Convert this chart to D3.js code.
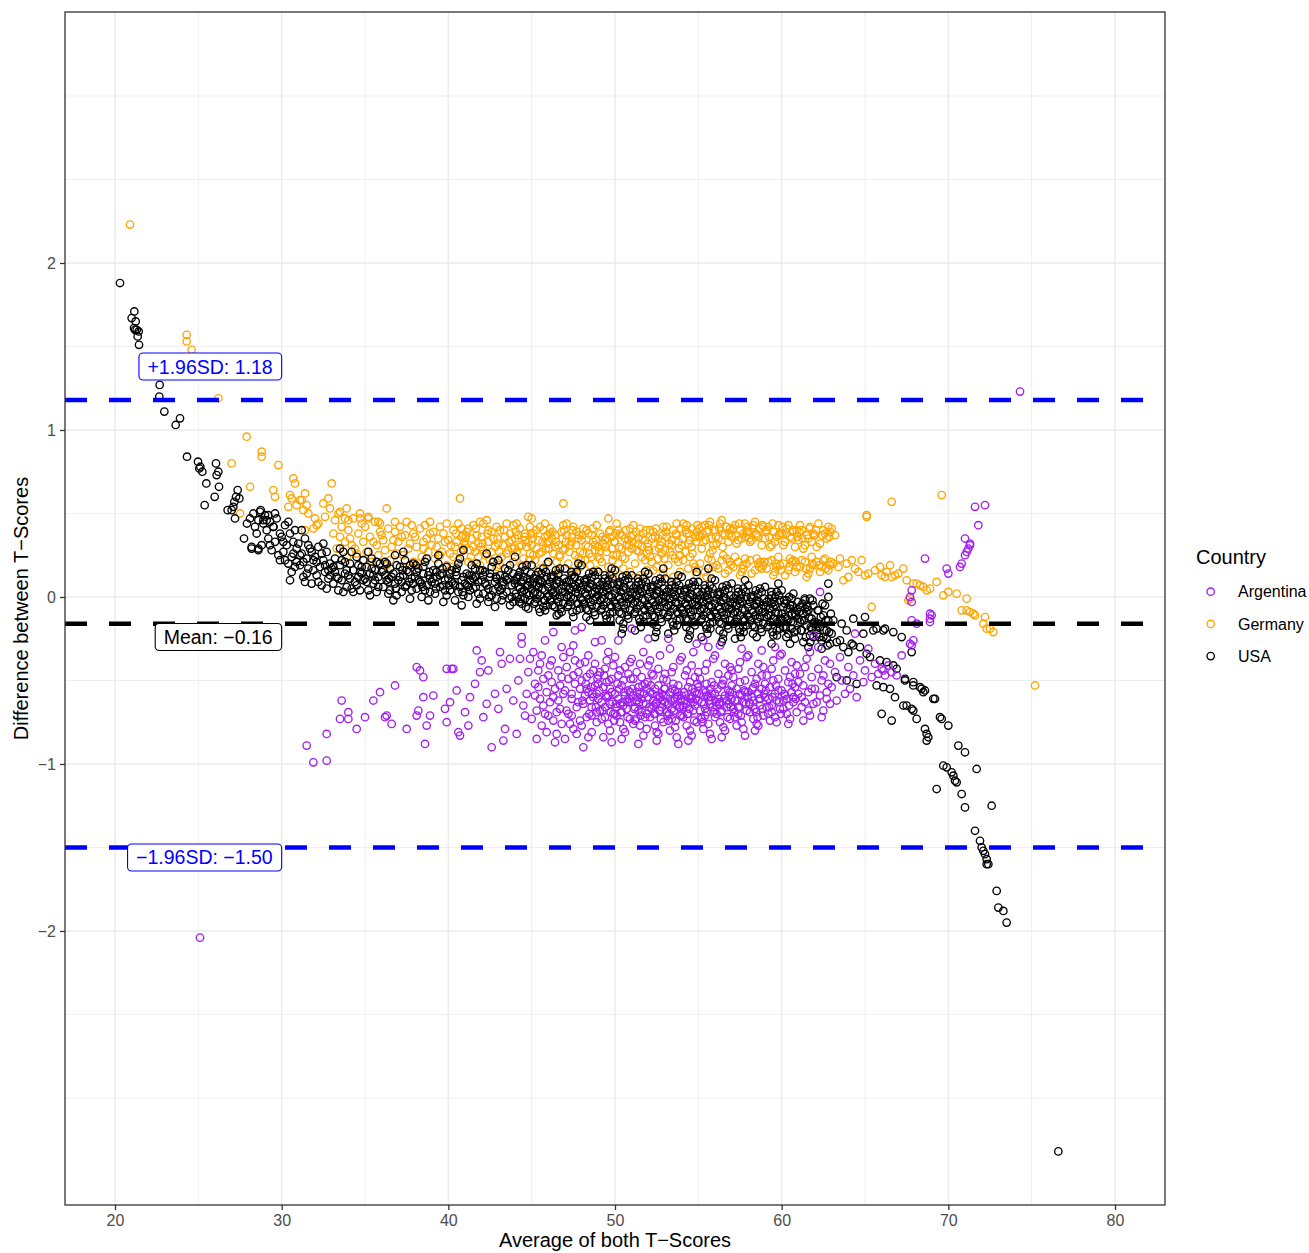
<!DOCTYPE html>
<html><head><meta charset="utf-8">
<script src="https://cdn.jsdelivr.net/npm/d3@7"></script>
<style>body{margin:0;background:#fff}svg{display:block}text{font-family:"Liberation Sans",Arial,Helvetica,sans-serif}</style>
</head><body><svg id="c" width="1309" height="1253"></svg>
<script>
const countries = ["Argentina","Germany","USA"];
const countryColors = ["#A020F0","#FFA500","#000000"];
const xTicks = [20,30,40,50,60,70,80];
const yTicks = [-2,-1,0,1,2];
const limitValues = [1.18,-0.16,-1.50];
const limitLabels = ["+1.96SD: 1.18","Mean: \u22120.16","\u22121.96SD: \u22121.50"];
const limitColors = ["#0000FF","#000000","#0000FF"];
const labelYValues = [1.38,-0.24,-1.56];
const labelRightX = 30;

const usa = [[20.3,1.88],[21.16,1.71],[21.0,1.67],[21.24,1.65],[21.14,1.61],[21.3,1.60],[21.42,1.59],[21.36,1.56],[21.44,1.51],[21.2,1.60],
[22.68,1.27],[22.66,1.2],[22.96,1.11],[23.64,1.03],[23.9,1.07],[24.32,.84],[24.98,.81],[25.12,.78],[25.24,.75],[25.06,.77],[25.48,.68],[25.38,.55],[25.98,.6],[26.06,.80],[26.2,.75],[26.24,.66],[26.1,.73],
[26.76,.52],[27.0,.52],[27.1,.54],[27.16,.57],[27.26,.60],[27.36,.64],[27.46,.59],[27.2,.47],[27.74,.35],[27.92,.44],[28.2,.29],[28.6,.28],[28.74,.52],[28.9,.46],[29.2,.49],[29.5,.42],
[28.1,.47],[28.3,.50],[28.4,.42],[28.5,.38],[28.6,.46],[28.7,.51],[28.8,.31],[28.9,.44],[28.2,.30],[28.6,.29],
[29.0,.49],[29.1,.40],[29.2,.35],[29.3,.45],[29.4,.28],[29.5,.42],[29.6,.33],[29.7,.47],[29.8,.25],[29.9,.38],[29.3,.31],[29.6,.50],[29.9,.22],[29.1,.46],
[30.0,.36],[30.1,.27],[30.2,.43],[30.3,.31],[30.4,.20],[30.5,.10],[30.5,.38],[30.6,.24],[30.7,.33],[30.8,.18],[30.9,.29],[30.2,.22],[30.4,.45],[30.6,.15],[30.8,.40],[30.9,.21],[30.1,.33],[30.7,.26],
[31.0,.32],[31.1,.19],[31.2,.26],[31.3,.12],[31.4,.35],[31.5,.23],[31.6,.17],[31.7,.29],[31.8,.08],[31.9,.22],[31.2,.40],[31.5,.14],[31.8,.27],[31.3,.21],[31.6,.31],[31.9,.16],[31.1,.25],[31.4,.09],
[32.0,.24],[32.1,.13],[32.2,.30],[32.3,.18],[32.4,.07],[32.5,.22],[32.6,.15],[32.7,.27],[32.8,.11],[32.9,.20],[32.2,.09],[32.5,.32],[32.8,.16],[32.1,.21],[32.4,.26],[32.7,.05],[32.9,.13],[32.6,.19],
[33.0,.17],[33.1,.08],[33.2,.23],[33.3,.12],[33.4,.04],[33.5,.19],[33.6,.10],[33.7,.27],[33.8,.14],[33.9,.06],[33.2,.15],[33.5,.29],[33.8,.21],[33.1,.18],[33.4,.11],[33.7,.03],[33.9,.16],[33.6,.22],
[34.0,.13],[34.1,.20],[34.2,.05],[34.3,.16],[34.4,.09],[34.5,.24],[34.6,.12],[34.7,.04],[34.8,.18],[34.9,.10],[34.2,.27],[34.5,.07],[34.8,.14],[34.3,.03],[34.6,.19],[34.9,.22],[34.1,.11],[34.7,.15],
[35.0,.11],[35.1,.18],[35.2,.04],[35.3,.14],[35.4,.23],[35.5,.08],[35.6,.16],[35.7,.03],[35.8,.12],[35.9,.20],[35.2,.27],[35.5,.13],[35.8,.06],[35.1,.09],[35.4,.17],[35.7,.21],[35.3,.01],[35.6,.10],
[36.0,.15],[36.1,.06],[36.2,.21],[36.3,.10],[36.4,.02],[36.5,.17],[36.6,.12],[36.7,-.02],[36.8,.08],[36.9,.19],[36.2,.13],[36.5,.04],[36.8,.25],[36.1,.16],[36.4,.09],[36.7,.14],[36.9,.01],[36.3,.20],
[37.0,.10],[37.1,.18],[37.2,.03],[37.3,.13],[37.4,.22],[37.5,.07],[37.6,.15],[37.7,-.01],[37.8,.11],[37.9,.20],[37.2,.09],[37.5,.16],[37.8,.04],[37.1,.12],[37.4,.06],[37.7,.19],[37.9,.08],[37.3,.27],
[38.0,.12],[38.1,.05],[38.2,.17],[38.3,.09],[38.4,.00],[38.5,.14],[38.6,.21],[38.7,.07],[38.8,.13],[38.9,.03],[38.2,.10],[38.5,.18],[38.8,-.02],[38.1,.15],[38.4,.08],[38.7,.23],[38.9,.11],[38.6,.04],
[39.0,.09],[39.1,.16],[39.2,.02],[39.3,.12],[39.4,.20],[39.5,.06],[39.6,.14],[39.7,-.03],[39.8,.10],[39.9,.18],[39.2,.08],[39.5,.13],[39.8,.04],[39.1,.11],[39.4,.25],[39.7,.07],[39.9,.01],[39.3,.15],
[40.0,.11],[40.1,.04],[40.2,.16],[40.3,.08],[40.4,-.02],[40.5,.13],[40.6,.20],[40.7,.06],[40.8,.10],[40.9,.01],[40.2,.09],[40.5,.17],[40.8,-.05],[40.1,.14],[40.4,.07],[40.7,.23],[40.9,.12],[40.6,.03],[40.9,.28],
[41.0,.08],[41.1,.14],[41.2,.00],[41.3,.10],[41.4,.19],[41.5,.05],[41.6,.12],[41.7,-.04],[41.8,.09],[41.9,.16],[41.2,.06],[41.5,.11],[41.8,.02],[41.1,.07],[41.4,.13],[41.7,.20],[41.9,-.01],[41.3,.04],[41.6,.17],
[42.0,.10],[42.1,.02],[42.2,.15],[42.3,.07],[42.4,-.03],[42.5,.12],[42.6,.18],[42.7,.04],[42.8,.09],[42.9,-.01],[42.2,.08],[42.5,.14],[42.8,-.06],[42.1,.13],[42.4,.05],[42.7,.21],[42.9,.11],[42.6,.01],[42.3,.26],
[43.0,.06],[43.1,.13],[43.2,-.02],[43.3,.09],[43.4,.17],[43.5,.03],[43.6,.11],[43.7,-.05],[43.8,.07],[43.9,.14],[43.2,.05],[43.5,.10],[43.8,.00],[43.1,.04],[43.4,.12],[43.7,.19],[43.9,-.03],[43.3,.01],[43.6,.16],[43.0,.22],
[44.0,.08],[44.1,.00],[44.2,.13],[44.3,.05],[44.4,-.04],[44.5,.10],[44.6,.16],[44.7,.02],[44.8,.07],[44.9,-.02],[44.2,.06],[44.5,.12],[44.8,-.07],[44.1,.11],[44.4,.03],[44.7,.19],[44.9,.09],[44.6,-.01],[44.3,.15],[44.0,.24],
[45.0,.05],[45.1,.11],[45.2,-.03],[45.3,.07],[45.4,.15],[45.5,.01],[45.6,.09],[45.7,-.06],[45.8,.04],[45.9,.12],[45.2,.03],[45.5,.08],[45.8,-.02],[45.1,.02],[45.4,.10],[45.7,.17],[45.9,-.05],[45.3,-.01],[45.6,.14],[45.0,.19],[45.5,-.09],
[46.0,.06],[46.1,-.02],[46.2,.11],[46.3,.03],[46.4,-.06],[46.5,.08],[46.6,.14],[46.7,.00],[46.8,.05],[46.9,-.04],[46.2,.04],[46.5,.10],[46.8,-.09],[46.1,.09],[46.4,.01],[46.7,.17],[46.9,.07],[46.6,-.03],[46.3,.13],[46.0,.21],[46.5,-.11],
[47.0,.03],[47.1,.09],[47.2,-.05],[47.3,.05],[47.4,.13],[47.5,-.01],[47.6,.07],[47.7,-.08],[47.8,.02],[47.9,.10],[47.2,.01],[47.5,.06],[47.8,-.04],[47.1,.00],[47.4,.08],[47.7,.15],[47.9,-.07],[47.3,-.03],[47.6,.12],[47.0,.17],[47.5,-.12],[47.8,.20],
[48.0,.04],[48.1,-.04],[48.2,.09],[48.3,.01],[48.4,-.08],[48.5,.06],[48.6,.12],[48.7,-.02],[48.8,.03],[48.9,-.06],[48.2,.02],[48.5,.08],[48.8,-.11],[48.1,.07],[48.4,-.01],[48.7,.15],[48.9,.05],[48.6,-.05],[48.3,.11],[48.0,.19],[48.5,-.14],[48.8,.13],
[49.0,.01],[49.1,.07],[49.2,-.07],[49.3,.03],[49.4,.11],[49.5,-.03],[49.6,.05],[49.7,-.10],[49.8,.00],[49.9,.08],[49.2,-.01],[49.5,.04],[49.8,-.06],[49.1,-.02],[49.4,.06],[49.7,.13],[49.9,-.09],[49.3,-.05],[49.6,.10],[49.0,.15],[49.5,-.13],[49.8,.17],
[50.0,.02],[50.1,-.06],[50.2,.07],[50.3,-.01],[50.4,-.10],[50.5,.04],[50.6,.10],[50.7,-.04],[50.8,.01],[50.9,-.08],[50.2,.00],[50.5,.06],[50.8,-.13],[50.1,.05],[50.4,-.03],[50.7,.13],[50.9,.03],[50.6,-.07],[50.3,.09],[50.0,.16],[50.5,-.16],[50.8,.11],[50.4,-.22],
[51.0,-.01],[51.1,.05],[51.2,-.09],[51.3,.01],[51.4,.09],[51.5,-.05],[51.6,.03],[51.7,-.12],[51.8,-.02],[51.9,.06],[51.2,-.03],[51.5,.02],[51.8,-.08],[51.1,-.04],[51.4,.04],[51.7,.11],[51.9,-.11],[51.3,-.07],[51.6,.08],[51.0,.13],[51.5,-.15],[51.8,.15],[51.2,-.20],
[52.0,.00],[52.1,-.08],[52.2,.05],[52.3,-.03],[52.4,-.12],[52.5,.02],[52.6,.08],[52.7,-.06],[52.8,-.01],[52.9,-.10],[52.2,-.02],[52.5,.04],[52.8,-.15],[52.1,.03],[52.4,-.05],[52.7,.11],[52.9,.01],[52.6,-.09],[52.3,.07],[52.0,.14],[52.5,-.18],[52.8,.09],[52.4,-.24],[52.9,.17],
[53.0,-.03],[53.1,.03],[53.2,-.11],[53.3,-.01],[53.4,.07],[53.5,-.07],[53.6,.01],[53.7,-.14],[53.8,-.04],[53.9,.04],[53.2,-.05],[53.5,.00],[53.8,-.10],[53.1,-.06],[53.4,.02],[53.7,.09],[53.9,-.13],[53.3,-.09],[53.6,.06],[53.0,.11],[53.5,-.17],[53.8,.13],[53.2,-.22],
[54.0,-.02],[54.1,-.10],[54.2,.03],[54.3,-.05],[54.4,-.14],[54.5,.00],[54.6,.06],[54.7,-.08],[54.8,-.03],[54.9,-.12],[54.2,-.04],[54.5,.02],[54.8,-.17],[54.1,.01],[54.4,-.07],[54.7,.09],[54.9,-.01],[54.6,-.11],[54.3,.05],[54.0,.12],[54.5,-.20],[54.8,.07],[54.4,-.25],[54.9,.15],
[55.0,-.05],[55.1,.01],[55.2,-.13],[55.3,-.03],[55.4,.05],[55.5,-.09],[55.6,-.01],[55.7,-.16],[55.8,-.06],[55.9,.02],[55.2,-.07],[55.5,-.02],[55.8,-.12],[55.1,-.08],[55.4,.00],[55.7,.07],[55.9,-.15],[55.3,-.11],[55.6,.04],[55.0,.09],[55.5,-.19],[55.8,.11],[55.2,-.24],[55.6,.17],
[56.0,-.04],[56.1,-.12],[56.2,.01],[56.3,-.07],[56.4,-.16],[56.5,-.02],[56.6,.04],[56.7,-.10],[56.8,-.05],[56.9,-.14],[56.2,-.06],[56.5,.00],[56.8,-.19],[56.1,-.01],[56.4,-.09],[56.7,.07],[56.9,-.03],[56.6,-.13],[56.3,.03],[56.0,.10],[56.5,-.22],[56.8,.05],[56.4,-.27],
[57.0,-.07],[57.1,-.01],[57.2,-.15],[57.3,-.05],[57.4,.03],[57.5,-.11],[57.6,-.03],[57.7,-.18],[57.8,-.08],[57.9,.00],[57.2,-.09],[57.5,-.04],[57.8,-.14],[57.1,-.10],[57.4,-.02],[57.7,.05],[57.9,-.17],[57.3,-.13],[57.6,.02],[57.0,.08],[57.5,-.21],[57.8,.10],[57.2,-.25],
[58.0,-.06],[58.1,-.14],[58.2,-.01],[58.3,-.09],[58.4,-.18],[58.5,-.04],[58.6,.02],[58.7,-.12],[58.8,-.07],[58.9,-.16],[58.2,-.08],[58.5,-.02],[58.8,-.21],[58.1,-.03],[58.4,-.11],[58.7,.05],[58.9,-.05],[58.6,-.15],[58.3,.01],[58.0,.07],[58.5,-.24],[58.8,.03],
[59.0,-.09],[59.1,-.03],[59.2,-.17],[59.3,-.07],[59.4,.01],[59.5,-.13],[59.6,-.05],[59.7,-.20],[59.8,-.10],[59.9,-.02],[59.2,-.11],[59.5,-.06],[59.8,-.16],[59.1,-.12],[59.4,-.04],[59.7,.03],[59.9,-.19],[59.3,-.15],[59.6,.00],[59.0,.06],[59.5,-.23],[59.8,.08],[59.4,-.28],
[60.0,-.10],[60.1,-.18],[60.2,-.04],[60.3,-.13],[60.4,-.22],[60.5,-.07],[60.6,-.01],[60.7,-.15],[60.8,-.10],[60.9,-.20],[60.2,-.12],[60.5,-.05],[60.8,-.25],[60.1,-.06],[60.4,-.14],[60.7,.02],[60.9,-.08],[60.6,-.19],[60.3,-.02],[60.0,.04],[60.5,-.28],
[61.0,-.13],[61.1,-.06],[61.2,-.20],[61.3,-.10],[61.4,-.02],[61.5,-.17],[61.6,-.08],[61.7,-.23],[61.8,-.13],[61.9,-.05],[61.2,-.14],[61.5,-.09],[61.8,-.19],[61.1,-.15],[61.4,-.07],[61.7,-.01],[61.9,-.24],[61.3,-.27],[61.6,-.30],
[62.0,-.15],[62.1,-.22],[62.2,-.08],[62.3,-.18],[62.4,-.26],[62.5,-.11],[62.6,-.05],[62.7,-.20],[62.8,-.14],[62.9,-.28],[62.2,-.16],[62.5,-.24],[62.8,.00],[62.8,.08],[62.4,-.31],[62.7,-.25],
[63.0,-.22],[63.1,-.14],[63.3,-.27],[63.3,-.48],[63.5,-.26],[63.6,-.16],[63.7,-.30],[63.9,-.50],[63.9,-.20],[64.0,-.33],[64.2,-.28],[64.3,-.13],[64.3,-.29],[64.5,-.52],[64.7,-.30],[64.9,-.22],[65.0,-.12],[65.1,-.34],[65.3,-.36],[65.5,-.20],[65.7,-.19],[65.7,-.53],[65.9,-.38],[66.0,-.70],[66.1,-.20],[66.1,-.54],[66.2,-.19],[66.3,-.39],[66.5,-.55],[66.6,-.74],[66.7,-.21],[66.7,-.41],[66.8,-.60],[66.9,-.43],[67.2,-.24],[67.3,-.65],[67.4,-.49],[67.4,-.50],[67.5,-.65],[67.8,-.33],[67.8,-.67],[67.9,-.51],[67.9,-.53],[67.9,-.68],[68.1,-.73],[68.3,-.54],[68.4,-.55],[68.5,-.57],[68.6,-.56],[68.6,-.79],[68.7,-.82],[68.7,-.86],[68.8,-.84],[69.1,-.61],[69.2,-.61],[69.3,-1.15],[69.5,-.72],[69.6,-.73],[69.7,-1.01],[69.9,-1.02],[70.0,-.77],[70.2,-1.05],[70.3,-1.07],[70.4,-1.10],[70.5,-1.11],[70.6,-.89],[70.8,-1.18],[71.0,-.93],[71.0,-1.26],[71.6,-1.40],[71.7,-1.03],[71.9,-1.46],[72.0,-1.50],[72.1,-1.52],[72.2,-1.54],[72.3,-1.57],[72.3,-1.60],[72.4,-1.60],[72.6,-1.25],[72.9,-1.76],[73.0,-1.86],[73.3,-1.88],[73.5,-1.95],[76.6,-3.32]];

const usaCore = [[36.45,.11],[36.85,.05],[37.25,.16],[37.65,.09],[38.05,.19],[38.45,.06],[38.85,.15],[39.25,.05],[39.65,.17],[40.05,.07],[40.45,.15],[40.85,.03],[41.25,.13],[41.65,.06],[42.05,.16],[42.45,.00],[42.85,.12],[43.25,.07],[43.65,-.01],[43.95,.10],
[44.05,.02],[44.15,.12],[44.25,-.03],[44.35,.09],[44.45,.18],[44.55,.04],[44.65,-.06],[44.75,.11],[44.85,.01],[44.95,.14],[44.33,-.01],[44.72,.07],
[45.05,.08],[45.15,-.04],[45.25,.13],[45.35,.02],[45.45,-.07],[45.55,.10],[45.65,.05],[45.75,-.02],[45.85,.15],[45.95,.00],[45.42,.06],[45.81,-.08],
[46.05,.01],[46.15,.12],[46.25,-.05],[46.35,.07],[46.45,.16],[46.55,-.01],[46.65,.09],[46.75,-.07],[46.85,.03],[46.95,.11],[46.28,.02],[46.62,-.10],
[47.05,.06],[47.15,-.06],[47.25,.10],[47.35,.00],[47.45,-.09],[47.55,.12],[47.65,.03],[47.75,-.04],[47.85,.08],[47.95,-.01],[47.38,.15],[47.72,.05],
[48.05,-.02],[48.15,.10],[48.25,-.07],[48.35,.05],[48.45,.14],[48.55,-.03],[48.65,.07],[48.75,-.09],[48.85,.00],[48.95,.09],[48.28,-.12],[48.62,.02],
[49.05,.04],[49.15,-.08],[49.25,.09],[49.35,-.01],[49.45,-.11],[49.55,.07],[49.65,.01],[49.75,-.05],[49.85,.11],[49.95,-.03],[49.38,.13],[49.72,-.13],
[50.05,-.04],[50.15,.08],[50.25,-.09],[50.35,.03],[50.45,.12],[50.55,-.05],[50.65,.05],[50.75,-.11],[50.85,-.01],[50.95,.07],[50.28,-.14],[50.62,.00],[50.48,-.19],
[51.05,.02],[51.15,-.10],[51.25,.07],[51.35,-.03],[51.45,-.13],[51.55,.05],[51.65,-.01],[51.75,-.07],[51.85,.09],[51.95,-.05],[51.38,.11],[51.72,-.15],[51.55,-.18],
[52.05,-.06],[52.15,.06],[52.25,-.11],[52.35,.01],[52.45,.10],[52.55,-.07],[52.65,.03],[52.75,-.13],[52.85,-.03],[52.95,.05],[52.28,-.16],[52.62,-.02],[52.48,-.21],
[53.05,.00],[53.15,-.12],[53.25,.05],[53.35,-.05],[53.45,-.15],[53.55,.03],[53.65,-.03],[53.75,-.09],[53.85,.07],[53.95,-.07],[53.38,.09],[53.72,-.17],[53.55,-.20],
[54.05,-.08],[54.15,.04],[54.25,-.13],[54.35,-.01],[54.45,.08],[54.55,-.09],[54.65,.01],[54.75,-.15],[54.85,-.05],[54.95,.03],[54.28,-.18],[54.62,-.04],[54.48,-.23],
[55.05,-.02],[55.15,-.14],[55.25,.03],[55.35,-.07],[55.45,-.17],[55.55,.01],[55.65,-.05],[55.75,-.11],[55.85,.05],[55.95,-.09],[55.38,.07],[55.72,-.19],[55.55,-.22],
[56.05,-.10],[56.15,.02],[56.25,-.15],[56.35,-.03],[56.45,.06],[56.55,-.11],[56.65,-.01],[56.75,-.17],[56.85,-.07],[56.95,.01],[56.28,-.20],[56.62,-.06],[56.48,-.25],
[57.05,-.04],[57.15,-.16],[57.25,.01],[57.35,-.09],[57.45,-.19],[57.55,-.01],[57.65,-.07],[57.75,-.13],[57.85,.03],[57.95,-.11],[57.38,.05],[57.72,-.21],[57.55,-.24],
[58.05,-.12],[58.15,.00],[58.25,-.17],[58.35,-.05],[58.45,.04],[58.55,-.13],[58.65,-.03],[58.75,-.19],[58.85,-.09],[58.95,-.01],[58.28,-.22],[58.62,-.08],
[59.05,-.06],[59.15,-.18],[59.25,-.01],[59.35,-.11],[59.45,-.21],[59.55,-.03],[59.65,-.09],[59.75,-.15],[59.85,.01],[59.95,-.13],[59.38,.03],[59.72,-.23],
[60.05,-.14],[60.15,-.02],[60.25,-.19],[60.35,-.07],[60.45,.00],[60.55,-.15],[60.65,-.05],[60.75,-.21],[60.85,-.11],[60.95,-.03],[60.28,-.24],[60.62,-.10],
[61.05,-.09],[61.15,-.20],[61.25,-.04],[61.35,-.14],[61.45,-.24],[61.55,-.06],[61.65,-.12],[61.75,-.18],[61.85,-.02],[61.95,-.16],[61.38,-.01],[61.72,-.27],
[62.05,-.19],[62.15,-.08],[62.25,-.24],[62.35,-.12],[62.45,-.04],[62.55,-.20],[62.65,-.14],[62.75,-.29],[62.85,-.21],[62.95,-.10]];

const germany = [[20.9,2.23],[24.3,1.57],[24.3,1.53],[24.6,1.48],[26.2,1.19],[27.9,.96],[28.8,.87],[28.8,.84],[27.0,.80],[29.8,.79],[28.1,.66],[29.5,.64],[29.6,.60],[30.7,.71],[30.8,.68],[30.6,.59],[31.4,.62],[31.2,.58],[31.5,.55],[31.6,.50],[32.5,.56],[33.0,.68],[32.6,.48],[32.2,.44],[31.9,.41],[31.4,.40],[27.5,.50],[30.9,.55],[30.5,.61],[30.4,.54],[31.1,.58],[31.3,.52],[32.0,.47],[32.1,.43],[32.8,.59],[32.9,.53],[33.5,.51],[33.8,.47],[34.0,.46],[34.7,.47],[35.2,.47],[35.8,.45],[36.3,.53],[36.1,.34],[37.5,.45],[37.8,.43],[38.3,.41],[38.1,.30],
[33.1,.38],[33.3,.29],[33.4,.50],[33.6,.42],[33.8,.33],[33.9,.24],[33.2,.46],[33.5,.36],[33.7,.27],[33.9,.53],
[34.0,.40],[34.2,.31],[34.3,.47],[34.5,.26],[34.6,.38],[34.8,.44],[34.9,.22],[34.1,.35],[34.4,.29],[34.7,.50],[34.9,.33],
[35.0,.42],[35.1,.27],[35.3,.36],[35.4,.21],[35.6,.45],[35.7,.31],[35.9,.39],[35.2,.48],[35.5,.33],[35.8,.25],[35.9,.44],
[36.0,.37],[36.2,.28],[36.4,.41],[36.5,.22],[36.7,.34],[36.8,.45],[36.6,.30],[36.9,.26],[36.3,.19],[36.8,.39],
[37.0,.33],[37.1,.42],[37.3,.25],[37.4,.37],[37.6,.29],[37.9,.21],[37.2,.36],[37.7,.32],[37.9,.38],[37.4,.18],
[38.0,.36],[38.4,.24],[38.5,.33],[38.6,.43],[38.8,.27],[38.9,.38],[38.2,.20],[38.7,.35],[38.5,.29],[38.9,.45],
[39.0,.31],[39.1,.39],[39.2,.23],[39.4,.35],[39.5,.42],[39.6,.27],[39.8,.33],[39.9,.19],[39.3,.30],[39.7,.38],[39.9,.44],[39.5,.25],
[40.0,.34],[40.1,.26],[40.3,.40],[40.4,.30],[40.6,.44],[40.7,.59],[40.6,.22],[40.8,.36],[40.9,.29],[40.2,.18],[40.5,.33],[40.8,.41],[40.3,.24],[40.9,.37],
[41.0,.31],[41.1,.39],[41.2,.21],[41.4,.35],[41.5,.43],[41.6,.27],[41.8,.32],[41.9,.45],[41.3,.28],[41.7,.37],[41.9,.19],[41.5,.30],[41.2,.41],[41.8,.24],
[42.0,.36],[42.1,.28],[42.3,.46],[42.4,.33],[42.5,.22],[42.6,.39],[42.8,.30],[42.9,.42],[42.2,.25],[42.7,.35],[42.9,.18],[42.4,.40],[42.6,.27],[42.1,.44],
[43.0,.32],[43.1,.40],[43.2,.24],[43.4,.36],[43.5,.44],[43.6,.28],[43.8,.34],[43.9,.21],[43.3,.31],[43.7,.38],[43.9,.43],[43.5,.26],[43.1,.19],[43.8,.29],
[44.0,.35],[44.1,.27],[44.3,.41],[44.4,.31],[44.5,.23],[44.6,.38],[44.8,.48],[44.8,.33],[44.9,.26],[44.2,.37],[44.7,.30],[44.9,.42],[44.4,.19],[44.6,.34],[44.1,.44],
[45.0,.47],[45.0,.31],[45.1,.38],[45.2,.22],[45.4,.34],[45.5,.42],[45.6,.27],[45.8,.36],[45.9,.20],[45.3,.29],[45.7,.40],[45.9,.32],[45.5,.17],[45.1,.25],[45.8,.44],
[46.0,.33],[46.1,.41],[46.3,.26],[46.4,.37],[46.5,.21],[46.6,.31],[46.8,.39],[46.9,.56],[46.9,.28],[46.2,.35],[46.7,.24],[46.9,.43],[46.4,.30],[46.6,.16],[46.1,.38],
[47.0,.29],[47.1,.37],[47.2,.20],[47.4,.33],[47.5,.42],[47.6,.25],[47.8,.35],[47.9,.18],[47.3,.31],[47.7,.39],[47.9,.27],[47.5,.15],[47.1,.44],[47.8,.23],[47.4,.36],
[48.0,.34],[48.1,.26],[48.3,.40],[48.4,.30],[48.5,.19],[48.6,.37],[48.8,.28],[48.9,.43],[48.2,.22],[48.7,.33],[48.9,.16],[48.4,.38],[48.6,.24],[48.1,.41],[48.8,.31],
[49.0,.30],[49.1,.38],[49.2,.21],[49.4,.34],[49.5,.27],[49.6,.47],[49.6,.18],[49.8,.36],[49.9,.25],[49.3,.32],[49.7,.40],[49.9,.14],[49.5,.35],[49.1,.23],[49.8,.29],
[50.0,.33],[50.1,.44],[50.1,.25],[50.3,.38],[50.4,.29],[50.5,.17],[50.6,.35],[50.8,.27],[50.9,.41],[50.2,.20],[50.7,.31],[50.9,.15],[50.4,.37],[50.6,.23],[50.2,.40],[50.8,.34],
[51.0,.29],[51.1,.37],[51.2,.20],[51.4,.32],[51.5,.41],[51.6,.24],[51.8,.34],[51.9,.16],[51.3,.28],[51.7,.38],[51.9,.26],[51.5,.13],[51.1,.43],[51.8,.22],[51.4,.35],[51.6,.30],
[52.0,.32],[52.1,.24],[52.3,.39],[52.4,.28],[52.5,.18],[52.6,.35],[52.8,.26],[52.9,.42],[52.2,.21],[52.7,.31],[52.9,.14],[52.4,.36],[52.6,.23],[52.1,.40],[52.8,.33],[52.3,.16],
[53.0,.28],[53.1,.36],[53.2,.19],[53.4,.31],[53.5,.40],[53.6,.23],[53.7,.44],[53.8,.33],[53.9,.15],[53.3,.27],[53.7,.37],[53.9,.25],[53.5,.12],[53.1,.42],[53.8,.21],[53.4,.34],
[54.0,.31],[54.1,.22],[54.3,.43],[54.3,.38],[54.4,.17],[54.5,.34],[54.6,.41],[54.7,.20],[54.8,.36],[54.9,.13],[54.2,.27],[54.6,.30],[54.9,.39],[54.5,.24],[54.1,.44],[54.8,.18],[54.4,.32],
[55.0,.37],[55.1,.20],[55.2,.42],[55.3,.33],[55.4,.15],[55.5,.39],[55.6,.23],[55.7,.45],[55.8,.35],[55.9,.18],[55.2,.29],[55.6,.40],[55.9,.31],[55.5,.12],[55.1,.36],[55.8,.22],[55.4,.43],[55.7,.26],
[56.0,.40],[56.1,.19],[56.2,.35],[56.3,.44],[56.4,.22],[56.5,.38],[56.6,.14],[56.7,.42],[56.8,.33],[56.9,.21],[56.2,.17],[56.6,.37],[56.9,.41],[56.5,.25],[56.1,.32],[56.8,.16],[56.4,.46],[56.7,.23],
[57.0,.36],[57.1,.18],[57.2,.43],[57.3,.32],[57.4,.21],[57.5,.40],[57.6,.15],[57.7,.38],[57.8,.44],[57.9,.20],[57.2,.24],[57.6,.35],[57.9,.39],[57.5,.13],[57.1,.41],[57.8,.23],[57.4,.34],[57.7,.17],
[58.0,.39],[58.1,.22],[58.2,.34],[58.3,.43],[58.4,.16],[58.5,.37],[58.6,.20],[58.7,.41],[58.8,.31],[58.9,.19],[58.2,.14],[58.6,.36],[58.9,.42],[58.5,.23],[58.1,.33],[58.8,.17],[58.4,.45],[58.7,.21],
[59.0,.35],[59.1,.17],[59.2,.42],[59.3,.30],[59.4,.22],[59.5,.39],[59.6,.15],[59.7,.36],[59.8,.43],[59.9,.19],[59.2,.21],[59.6,.33],[59.9,.38],[59.5,.13],[59.1,.40],[59.8,.24],[59.4,.31],[59.7,.18],
[60.0,.38],[60.1,.20],[60.2,.33],[60.3,.41],[60.4,.16],[60.5,.36],[60.6,.21],[60.7,.39],[60.8,.30],[60.9,.18],[60.2,.13],[60.6,.35],[60.9,.40],[60.5,.23],[60.1,.31],[60.8,.15],[60.4,.43],[60.7,.22],
[61.0,.34],[61.1,.18],[61.2,.40],[61.3,.29],[61.4,.21],[61.5,.37],[61.6,.14],[61.7,.42],[61.8,.33],[61.9,.19],[61.2,.22],[61.6,.35],[61.9,.38],[61.5,.12],[61.1,.43],[61.8,.24],[61.4,.31],[61.7,.17],
[62.0,.37],[62.1,.21],[62.2,.44],[62.3,.32],[62.4,.18],[62.5,.40],[62.6,.23],[62.7,.35],[62.8,.42],[62.9,.19],[62.3,.15],[62.6,.38],[62.9,.39],[62.5,.22],[62.1,.30],[62.8,.16],
[63.0,.41],[63.1,.20],[63.2,.37],[63.4,.18],[63.5,.23],[63.7,.10],[63.9,.20],[64.0,.12],[64.2,.22],[64.4,.17],[64.6,.15],[64.8,.22],[65.0,.13],[65.1,.49],[65.1,.48],[65.2,.14],[65.4,-.06],[65.6,.16],[65.9,.18],[66.0,.13],[66.2,.12],[66.3,.15],[66.5,.19],[66.6,.57],[66.6,.12],[66.8,.13],[67.0,.14],[67.3,.17],[67.5,.10],[67.6,-.02],[67.7,-.01],[67.9,.08],[68.1,.08],[68.3,.07],[68.5,.06],[68.7,.04],[68.9,.05],[69.3,.09],[69.6,.61],[69.7,.01],[70.0,.03],[70.5,.02],[70.8,-.08],[71.1,-.01],[71.1,-.08],[71.3,-.09],[71.5,-.10],[71.6,-.11],[72.1,-.16],[72.2,-.12],[72.3,-.19],[72.5,-.19],[72.7,-.21],[75.2,-.53]];

const germanyCore = [[40.15,.31],[40.45,.38],[40.75,.27],[40.95,.33],[41.05,.36],[41.35,.24],[41.65,.41],[41.95,.30],[42.05,.32],[42.35,.38],[42.65,.21],[42.95,.35],[43.05,.27],[43.35,.40],[43.65,.33],[43.95,.29],
[44.05,.39],[44.25,.30],[44.55,.36],[44.85,.22],[44.95,.38],[45.05,.35],[45.25,.40],[45.45,.26],[45.65,.33],[45.85,.29],[45.95,.37],
[46.05,.29],[46.25,.39],[46.45,.33],[46.65,.25],[46.85,.35],[46.95,.40],[47.05,.33],[47.25,.27],[47.45,.40],[47.65,.31],[47.85,.37],[47.95,.22],
[48.05,.37],[48.25,.31],[48.45,.26],[48.65,.41],[48.85,.34],[48.95,.24],[49.05,.27],[49.25,.36],[49.45,.30],[49.65,.39],[49.85,.22],[49.95,.33],
[50.05,.38],[50.25,.30],[50.45,.24],[50.65,.40],[50.85,.31],[50.95,.36],[51.05,.33],[51.25,.39],[51.45,.27],[51.65,.35],[51.85,.40],[51.95,.30],
[52.05,.28],[52.25,.35],[52.45,.41],[52.65,.29],[52.85,.37],[52.95,.23],[53.05,.39],[53.25,.32],[53.45,.25],[53.65,.38],[53.85,.29],[53.95,.41],
[54.05,.35],[54.25,.40],[54.45,.38],[54.65,.26],[54.85,.33],[54.95,.43],[55.05,.41],[55.25,.38],[55.45,.34],[55.65,.43],[55.85,.28],[55.95,.40],
[56.05,.36],[56.25,.41],[56.45,.30],[56.65,.42],[56.85,.38],[56.95,.19],[57.05,.40],[57.25,.37],[57.45,.44],[57.65,.19],[57.85,.36],[57.95,.42],
[58.05,.35],[58.25,.41],[58.45,.38],[58.65,.18],[58.85,.43],[58.95,.21],[59.05,.39],[59.25,.36],[59.45,.44],[59.65,.20],[59.85,.37],[59.95,.16],
[60.05,.42],[60.25,.38],[60.45,.18],[60.65,.40],[60.85,.21],[60.95,.36],[61.05,.39],[61.25,.35],[61.45,.17],[61.65,.41],[61.85,.20],[61.95,.37],
[62.05,.40],[62.25,.19],[62.45,.37],[62.65,.17],[62.85,.36],[62.95,.21]];

const argentina = [[25.1,-2.04],[31.5,-.89],[31.9,-.99],[32.7,-.98],[32.7,-.82],[33.6,-.62],[33.5,-.73],[34.0,-.69],[34.0,-.73],[34.5,-.79],[35.0,-.72],[35.5,-.62],[35.9,-.57],[36.2,-.72],[36.3,-.71],[36.6,-.76],[36.8,-.53],[37.5,-.79],[38.1,-.42],[38.3,-.44],[38.5,-.48],[38.1,-.71],[38.2,-.68],[38.7,-.77],[38.6,-.88],[38.5,-.60],[38.9,-.71],[39.1,-.59],[39.9,-.43],[40.2,-.43],[40.3,-.43],[39.9,-.75],[39.8,-.67],[40.6,-.81],[40.7,-.83],[40.1,-.63],[40.5,-.56],[41.0,-.69],[41.3,-.60],[41.7,-.32],[42.0,-.38],[41.9,-.45],[42.4,-.44],[41.2,-.77],[41.6,-.52],[42.3,-.64],[42.6,-.90],[42.1,-.72],[42.8,-.58],[43.1,-.33],[43.2,-.40],[43.0,-.67],[43.4,-.79],[43.7,-.37],[43.5,-.55],[43.9,-.62],[43.3,-.86],[44.3,-.37],[44.4,-.24],[44.4,-.28],[44.2,-.50],[44.6,-.71],[44.9,-.37],[44.7,-.58],[44.1,-.82],[44.8,-.45],[44.5,-.65],
[45.1,-.33],[45.2,-.52],[45.3,-.68],[45.4,-.44],[45.5,-.61],[45.6,-.77],[45.7,-.49],[45.8,-.26],[45.9,-.57],[45.0,-.73],[45.3,-.85],[45.5,-.40],[45.7,-.65],[45.9,-.81],[45.2,-.59],[45.6,-.35],[45.8,-.70],[45.4,-.54],
[46.0,-.47],[46.1,-.63],[46.2,-.38],[46.3,-.21],[46.3,-.74],[46.4,-.55],[46.5,-.82],[46.6,-.44],[46.7,-.67],[46.8,-.30],[46.9,-.58],[46.0,-.71],[46.2,-.51],[46.4,-.87],[46.6,-.62],[46.8,-.76],[46.1,-.41],[46.5,-.69],[46.7,-.53],[46.9,-.36],[46.3,-.60],[46.8,-.48],
[47.0,-.56],[47.1,-.42],[47.2,-.70],[47.3,-.33],[47.4,-.61],[47.5,-.29],[47.5,-.79],[47.6,-.20],[47.6,-.52],[47.7,-.66],[47.8,-.45],[47.9,-.74],[47.0,-.85],[47.2,-.49],[47.4,-.58],[47.6,-.38],[47.8,-.63],[47.9,-.55],[47.1,-.68],[47.3,-.76],[47.5,-.47],[47.7,-.82],[47.9,-.40],[47.4,-.71],
[48.0,-.18],[48.0,-.50],[48.1,-.64],[48.2,-.39],[48.3,-.72],[48.4,-.57],[48.5,-.46],[48.6,-.81],[48.7,-.60],[48.8,-.27],[48.8,-.53],[48.9,-.69],[48.0,-.77],[48.2,-.59],[48.4,-.35],[48.6,-.66],[48.1,-.90],[48.3,-.48],[48.5,-.62],[48.7,-.44],[48.9,-.75],[48.3,-.55],[48.6,-.71],[48.8,-.40],[48.4,-.84],[48.9,-.58],
[49.0,-.61],[49.1,-.45],[49.2,-.26],[49.2,-.73],[49.3,-.54],[49.4,-.66],[49.5,-.38],[49.6,-.59],[49.7,-.80],[49.8,-.49],[49.9,-.70],[49.0,-.52],[49.2,-.63],[49.4,-.43],[49.6,-.76],[49.8,-.57],[49.1,-.68],[49.3,-.84],[49.5,-.51],[49.7,-.64],[49.9,-.41],[49.4,-.72],[49.6,-.33],[49.8,-.87],[49.0,-.47],[49.5,-.60],[49.7,-.55],
[50.0,-.58],[50.1,-.71],[50.2,-.26],[50.2,-.47],[50.3,-.64],[50.4,-.53],[50.5,-.79],[50.6,-.42],[50.7,-.67],[50.8,-.56],[50.9,-.73],[50.0,-.36],[50.2,-.61],[50.4,-.85],[50.6,-.59],[50.8,-.46],[50.1,-.66],[50.3,-.75],[50.5,-.50],[50.7,-.62],[50.9,-.39],[50.4,-.69],[50.6,-.81],[50.8,-.63],[50.3,-.44],[50.9,-.57],[50.0,-.70],[50.5,-.65],
[51.0,-.19],[51.0,-.63],[51.1,-.49],[51.2,-.74],[51.3,-.57],[51.4,-.68],[51.5,-.40],[51.6,-.61],[51.7,-.83],[51.8,-.52],[51.9,-.70],[51.1,-.59],[51.3,-.45],[51.5,-.77],[51.7,-.64],[51.9,-.55],[51.2,-.66],[51.4,-.88],[51.6,-.48],[51.8,-.72],[51.0,-.37],[51.3,-.62],[51.5,-.58],[51.7,-.33],[51.9,-.79],[51.4,-.54],[51.6,-.69],[51.1,-.76],
[52.0,-.25],[52.0,-.60],[52.1,-.72],[52.2,-.46],[52.3,-.65],[52.4,-.55],[52.5,-.81],[52.6,-.43],[52.7,-.68],[52.8,-.58],[52.9,-.75],[52.1,-.38],[52.3,-.62],[52.5,-.86],[52.7,-.60],[52.9,-.49],[52.2,-.67],[52.4,-.77],[52.6,-.53],[52.8,-.64],[52.0,-.41],[52.4,-.70],[52.6,-.82],[52.8,-.66],[52.3,-.47],[52.9,-.59],[52.5,-.63],[52.7,-.35],[52.1,-.57],
[53.0,-.63],[53.1,-.50],[53.2,-.25],[53.2,-.74],[53.3,-.57],[53.4,-.67],[53.5,-.42],[53.6,-.61],[53.7,-.84],[53.8,-.53],[53.9,-.71],[53.0,-.55],[53.2,-.64],[53.4,-.45],[53.6,-.78],[53.8,-.59],[53.1,-.69],[53.3,-.80],[53.5,-.52],[53.7,-.65],[53.9,-.38],[53.4,-.73],[53.6,-.56],[53.8,-.88],[53.0,-.46],[53.5,-.62],[53.7,-.60],[53.3,-.31],[53.9,-.66],
[54.0,-.59],[54.1,-.72],[54.2,-.47],[54.3,-.64],[54.4,-.54],[54.5,-.80],[54.6,-.41],[54.7,-.68],[54.8,-.57],[54.9,-.75],[54.0,-.36],[54.2,-.62],[54.4,-.86],[54.6,-.60],[54.8,-.48],[54.1,-.66],[54.3,-.77],[54.5,-.51],[54.7,-.63],[54.9,-.28],[54.4,-.70],[54.6,-.83],[54.8,-.65],[54.3,-.44],[54.9,-.58],[54.0,-.71],[54.5,-.61],[54.7,-.33],
[55.0,-.62],[55.1,-.49],[55.2,-.73],[55.3,-.56],[55.4,-.67],[55.5,-.40],[55.6,-.60],[55.7,-.82],[55.8,-.51],[55.9,-.69],[55.0,-.54],[55.2,-.63],[55.4,-.44],[55.6,-.76],[55.8,-.58],[55.1,-.68],[55.3,-.79],[55.5,-.52],[55.7,-.64],[55.9,-.37],[55.4,-.71],[55.6,-.30],[55.8,-.85],[55.0,-.45],[55.5,-.59],[55.7,-.55],[55.3,-.26],
[56.0,-.58],[56.1,-.70],[56.2,-.46],[56.3,-.63],[56.4,-.53],[56.5,-.78],[56.6,-.40],[56.7,-.66],[56.8,-.56],[56.9,-.73],[56.0,-.35],[56.2,-.61],[56.4,-.84],[56.6,-.59],[56.8,-.47],[56.1,-.65],[56.3,-.75],[56.5,-.50],[56.7,-.62],[56.9,-.42],[56.4,-.68],[56.6,-.80],[56.8,-.64],[56.3,-.29],[56.9,-.57],[56.0,-.72],
[57.0,-.61],[57.1,-.48],[57.2,-.72],[57.3,-.55],[57.4,-.66],[57.5,-.39],[57.6,-.59],[57.7,-.79],[57.8,-.50],[57.9,-.68],[57.0,-.53],[57.2,-.62],[57.4,-.43],[57.6,-.75],[57.8,-.57],[57.1,-.67],[57.3,-.77],[57.5,-.51],[57.7,-.63],[57.9,-.36],[57.4,-.70],[57.6,-.31],[57.8,-.83],[57.0,-.44],[57.5,-.58],
[58.0,-.57],[58.1,-.69],[58.2,-.45],[58.3,-.62],[58.4,-.52],[58.5,-.76],[58.6,-.40],[58.7,-.65],[58.8,-.55],[58.9,-.71],[58.0,-.35],[58.2,-.60],[58.4,-.80],[58.6,-.58],[58.8,-.47],[58.1,-.64],[58.3,-.73],[58.5,-.49],[58.7,-.61],[58.9,-.42],[58.4,-.67],[58.6,-.77],[58.8,-.32],[58.3,-.54],
[59.0,-.60],[59.1,-.47],[59.2,-.70],[59.3,-.54],[59.4,-.65],[59.5,-.38],[59.6,-.58],[59.7,-.75],[59.8,-.49],[59.9,-.67],[59.0,-.52],[59.2,-.61],[59.4,-.43],[59.6,-.72],[59.8,-.56],[59.1,-.66],[59.3,-.74],[59.5,-.50],[59.7,-.62],[59.9,-.35],[59.4,-.69],[59.6,-.30],
[60.0,-.56],[60.1,-.67],[60.2,-.44],[60.3,-.61],[60.4,-.51],[60.5,-.73],[60.6,-.39],[60.7,-.63],[60.8,-.54],[60.9,-.69],[60.0,-.34],[60.2,-.59],[60.4,-.76],[60.6,-.57],[60.8,-.46],[60.1,-.62],[60.3,-.70],[60.5,-.48],[60.7,-.60],[60.9,-.41],
[61.0,-.58],[61.1,-.46],[61.2,-.66],[61.3,-.53],[61.4,-.63],[61.5,-.37],[61.6,-.57],[61.7,-.71],[61.8,-.48],[61.9,-.64],[61.0,-.51],[61.2,-.60],[61.4,-.42],[61.6,-.68],[61.8,-.55],[61.9,-.23],[61.3,-.74],[61.7,-.33],
[62.0,-.55],[62.1,-.63],[62.2,-.43],[62.3,.03],[62.3,-.59],[62.4,-.50],[62.5,-.68],[62.6,-.38],[62.7,-.57],[62.8,-.52],[62.9,-.64],[62.2,-.30],[62.5,-.47],[62.7,-.61],[62.9,-.40],[62.4,-.72],
[63.0,-.54],[63.2,-.45],[63.3,-.62],[63.5,-.36],[63.6,-.50],[63.8,-.58],[64.0,-.42],[64.1,-.55],[64.3,-.47],[64.4,-.22],[64.5,-.60],[64.7,-.38],[64.9,-.51],[65.0,-.44],[65.2,-.31],[65.4,-.48],[65.6,-.40],[65.8,-.46],[66.0,-.43],[66.1,-.44],[66.2,-.47],[66.4,-.41],[66.6,-.45],[66.9,-.47],[67.2,-.35],[67.7,-.28],[67.8,-.29],[67.9,-.26],[67.8,.04],[67.7,.00],[67.8,-.03],[67.8,-.14],[68.1,-.16],[68.6,.23],[68.9,-.10],[69.0,-.11],[68.9,-.13],[68.9,-.15],[69.9,.17],[70.0,.14],[70.7,.18],[70.8,.20],[71.0,.25],[71.1,.27],[71.2,.29],[71.3,.31],[71.3,.32],[71.0,.35],[71.8,.43],[71.6,.54],[72.2,.55],[74.3,1.23]];

const argentinaCore = [[48.05,-.62],[48.25,-.52],[48.45,-.70],[48.65,-.58],[48.85,-.66],[48.95,-.49],[48.55,-.54],
[49.05,-.56],[49.25,-.68],[49.45,-.59],[49.65,-.50],[49.85,-.63],[49.95,-.74],[49.35,-.47],[49.75,-.69],
[50.05,-.64],[50.15,-.52],[50.35,-.69],[50.55,-.57],[50.75,-.72],[50.85,-.61],[50.95,-.49],[50.45,-.63],[50.25,-.55],
[51.05,-.55],[51.15,-.67],[51.35,-.60],[51.55,-.71],[51.75,-.58],[51.85,-.64],[51.95,-.51],[51.45,-.63],[51.25,-.73],[51.65,-.53],
[52.05,-.66],[52.15,-.53],[52.35,-.70],[52.55,-.59],[52.75,-.73],[52.85,-.62],[52.95,-.55],[52.45,-.64],[52.25,-.58],[52.65,-.68],
[53.05,-.59],[53.15,-.71],[53.35,-.62],[53.55,-.68],[53.75,-.57],[53.85,-.66],[53.95,-.61],[53.45,-.55],[53.25,-.70],[53.65,-.74],
[54.05,-.65],[54.15,-.57],[54.35,-.70],[54.55,-.63],[54.75,-.74],[54.85,-.61],[54.95,-.52],[54.45,-.67],[54.25,-.59],[54.65,-.55],
[55.05,-.58],[55.15,-.72],[55.35,-.64],[55.55,-.69],[55.75,-.60],[55.85,-.66],[55.95,-.53],[55.45,-.57],[55.25,-.75],[55.65,-.62],
[56.05,-.63],[56.15,-.55],[56.35,-.69],[56.55,-.61],[56.75,-.72],[56.85,-.59],[56.95,-.66],[56.45,-.52],[56.25,-.64],
[57.05,-.57],[57.15,-.69],[57.35,-.62],[57.55,-.71],[57.75,-.56],[57.85,-.64],[57.95,-.60],[57.45,-.66],
[58.05,-.63],[58.25,-.55],[58.45,-.69],[58.65,-.61],[58.85,-.67],[58.95,-.58],[58.55,-.72],
[59.05,-.56],[59.25,-.66],[59.45,-.60],[59.65,-.53],[59.85,-.63],[59.95,-.70],
[60.15,-.58],[60.45,-.65],[60.65,-.52],[60.85,-.61]];

const seriesData = [argentina.concat(argentinaCore), germany.concat(germanyCore), usa.concat(usaCore)];

const svg = d3.select("#c");
const x = d3.scaleLinear().domain([17,83]).range([65,1165]);
const y = d3.scaleLinear().domain([-3.641,3.503]).range([1205,12]);
const color = d3.scaleOrdinal().domain(countries).range(countryColors);

// grid
const g = svg.append("g");
const xMinor = d3.range(25,80,10);
const yAll = d3.range(-3,3.01,0.5);
g.selectAll(".xmin").data(xMinor).join("line")
 .attr("x1",d=>x(d)).attr("x2",d=>x(d)).attr("y1",12).attr("y2",1205).attr("stroke","#EBEBEB").attr("stroke-width",0.8);
g.selectAll(".ymin").data(yAll.filter(v=>!yTicks.includes(v))).join("line")
 .attr("x1",65).attr("x2",1165).attr("y1",d=>y(d)).attr("y2",d=>y(d)).attr("stroke","#EBEBEB").attr("stroke-width",0.8);
g.selectAll(".xmaj").data(xTicks).join("line")
 .attr("x1",d=>x(d)).attr("x2",d=>x(d)).attr("y1",12).attr("y2",1205).attr("stroke","#EBEBEB").attr("stroke-width",1.5);
g.selectAll(".ymaj").data(yTicks).join("line")
 .attr("x1",65).attr("x2",1165).attr("y1",d=>y(d)).attr("y2",d=>y(d)).attr("stroke","#EBEBEB").attr("stroke-width",1.5);

// points
[1,2,0].forEach(i=>{
  svg.append("g").selectAll("circle").data(seriesData[i]).join("circle")
   .attr("cx",d=>x(d[0])).attr("cy",d=>y(d[1])).attr("r",3.7)
   .attr("fill","none").attr("stroke",color(countries[i])).attr("stroke-width",1.35);
});

// limit lines
svg.append("g").selectAll("line").data(limitValues).join("line")
 .attr("x1",x(17)).attr("x2",x(83)).attr("y1",d=>y(d)).attr("y2",d=>y(d))
 .attr("stroke",(d,i)=>limitColors[i]).attr("stroke-width",4.5).attr("stroke-dasharray","22,22");

// labels
const lab = svg.append("g");
limitLabels.forEach((t,i)=>{
  const cy = y(labelYValues[i]);
  const rx = x(labelRightX);
  const grp = lab.append("g");
  const rect = grp.append("rect");
  const txt = grp.append("text").attr("x",rx-9).attr("y",cy+7).attr("text-anchor","end")
    .attr("font-size",19.5).attr("fill",limitColors[i]).text(t);
  const bb = txt.node().getBBox();
  rect.attr("x",bb.x-8.5).attr("y",cy-13.5).attr("width",rx-(bb.x-8.5)).attr("height",27)
    .attr("rx",4).attr("fill","#fff").attr("stroke",limitColors[i]).attr("stroke-width",1.1);
});

// panel border
svg.append("rect").attr("x",65).attr("y",12).attr("width",1100).attr("height",1193)
 .attr("fill","none").attr("stroke","#333333").attr("stroke-width",1.3);

// axes
const fmt = d => d<0 ? "\u2212"+Math.abs(d) : String(d);
const xa = svg.append("g").attr("transform","translate(0,1205)")
 .call(d3.axisBottom(x).tickValues(xTicks).tickSize(5).tickPadding(4.5).tickFormat(fmt));
const ya = svg.append("g").attr("transform","translate(65,0)")
 .call(d3.axisLeft(y).tickValues(yTicks).tickSize(5).tickPadding(4).tickFormat(fmt));
[xa,ya].forEach(a=>{
  a.select(".domain").remove();
  a.selectAll(".tick line").attr("stroke","#333333").attr("stroke-width",1.3);
  a.selectAll(".tick text").attr("fill","#4D4D4D").attr("font-size",16)
   .attr("font-family",'"Liberation Sans",Arial,Helvetica,sans-serif');
});

svg.append("text").attr("x",615).attr("y",1247).attr("text-anchor","middle").attr("font-size",20)
 .attr("fill","#000").text("Average of both T\u2212Scores");
svg.append("text").attr("transform","translate(28,608.5) rotate(-90)").attr("text-anchor","middle")
 .attr("font-size",20).attr("fill","#000").text("Difference between T\u2212Scores");

// legend
const leg = svg.append("g");
leg.append("text").attr("x",1196).attr("y",563.5).attr("font-size",20).attr("fill","#000").text("Country");
countries.forEach((c,i)=>{
  const cy = 591.7 + i*32.2;
  leg.append("circle").attr("cx",1210.7).attr("cy",cy).attr("r",3.7).attr("fill","none")
   .attr("stroke",color(c)).attr("stroke-width",1.35);
  leg.append("text").attr("x",1238).attr("y",cy+5.6).attr("font-size",16).attr("fill","#000").text(c);
});
</script></body></html>
